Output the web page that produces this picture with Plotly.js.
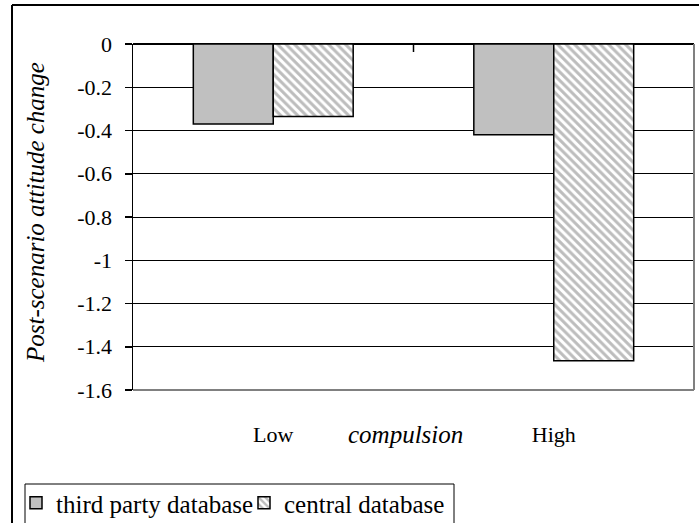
<!DOCTYPE html>
<html>
<head>
<meta charset="utf-8">
<script src="https://cdn.plot.ly/plotly-3.0.1.min.js"></script>
<style>html,body{margin:0;padding:0;background:#fff;}#chart{width:699px;height:523px;}</style>
</head>
<body>
<div id="chart"></div>
<script>
var categories = ['Low', 'High'];
var seriesNames = ['third party database', 'central database'];
var thirdParty = [-0.37, -0.42];
var central = [-0.335, -1.465];
var yTickVals = [0, -0.2, -0.4, -0.6, -0.8, -1, -1.2, -1.4, -1.6];
var yTickText = ['0', '-0.2', '-0.4', '-0.6', '-0.8', '-1', '-1.2', '-1.4', '-1.6'];
var xTitle = 'compulsion';
var yTitle = 'Post-scenario attitude change';

var FONT = 'Liberation Serif';
var FW = 699, FH = 523;
var W = 561, H = 346, L = 133, B = 390;
function px(x) { return (x - L) / W; }
function py(y) { return (B - y) / H; }

var traces = [
  {
    type: 'bar', name: seriesNames[0], x: categories, y: thirdParty,
    marker: {color: '#c0c0c0', line: {color: '#000', width: 1.5}}
  },
  {
    type: 'bar', name: seriesNames[1], x: categories, y: central,
    marker: {color: '#ffffff', line: {color: '#000', width: 1.5},
      pattern: {shape: '\\', fgcolor: '#bdbdbd', bgcolor: '#ffffff', size: 6, solidity: 0.5}}
  }
];

var layout = {
  width: FW, height: FH,
  margin: {l: 133, r: 5, t: 44, b: 133, pad: 0},
  paper_bgcolor: '#fff', plot_bgcolor: '#fff',
  font: {family: FONT, color: '#000', size: 22},
  barmode: 'group', bargap: 0.43, bargroupgap: 0,
  showlegend: true,
  legend: {
    orientation: 'h', xref: 'container', yref: 'container',
    x: 16 / FW, y: (FH - 480) / FH, xanchor: 'left', yanchor: 'top',
    font: {family: FONT, size: 25, color: '#000'}, entrywidth: 183,
    bgcolor: 'rgba(0,0,0,0)', borderwidth: 0, traceorder: 'normal'
  },
  xaxis: {
    type: 'category', range: [-0.5, 1.5], showgrid: false, zeroline: false,
    showline: false, ticks: '', ticklabelstandoff: 29,
    tickfont: {family: FONT, size: 22, color: '#000'}, fixedrange: true
  },
  yaxis: {
    range: [-1.6, 0], tickvals: yTickVals, ticktext: yTickText,
    showgrid: true, gridcolor: '#000', gridwidth: 1,
    zeroline: true, zerolinecolor: '#000', zerolinewidth: 1.5,
    showline: true, linecolor: '#000', linewidth: 1.5,
    ticks: 'outside', ticklen: 7, tickcolor: '#000', tickwidth: 1.5,
    ticklabelstandoff: 8,
    tickfont: {family: FONT, size: 22, color: '#000'}, fixedrange: true
  },
  annotations: [
    {text: yTitle, textangle: -90, xref: 'paper', yref: 'paper', x: px(35), y: py(213),
     xanchor: 'center', yanchor: 'middle', showarrow: false,
     font: {family: FONT, size: 25, color: '#000', style: 'italic'}},
    {text: xTitle, xref: 'paper', yref: 'paper', x: px(405.5), y: py(434),
     xanchor: 'center', yanchor: 'middle', showarrow: false,
     font: {family: FONT, size: 25, color: '#000', style: 'italic'}}
  ],
  shapes: [
    {type: 'line', xref: 'paper', yref: 'paper', x0: 1, x1: 1, y0: 0, y1: 1, line: {color: '#808080', width: 2}},
    {type: 'line', xref: 'paper', yref: 'paper', x0: 0, x1: 1, y0: 0, y1: 0, line: {color: '#808080', width: 2}},
    {type: 'line', xref: 'x', yref: 'paper', x0: 0.5, x1: 0.5, y0: 1, y1: 1 - 8 / H, line: {color: '#000', width: 1.5}},
    {type: 'line', xref: 'paper', yref: 'paper', x0: px(12), x1: px(12), y0: py(540), y1: py(5), line: {color: '#000', width: 2}},
    {type: 'line', xref: 'paper', yref: 'paper', x0: px(12), x1: px(720), y0: py(5), y1: py(5), line: {color: '#000', width: 2}},
    {type: 'rect', xref: 'paper', yref: 'paper', x0: px(25), x1: px(454), y0: py(540), y1: py(484), line: {color: '#000', width: 1}, fillcolor: 'rgba(0,0,0,0)'}
  ]
};

Plotly.newPlot('chart', traces, layout, {displayModeBar: false, staticPlot: true});
</script>
</body>
</html>
